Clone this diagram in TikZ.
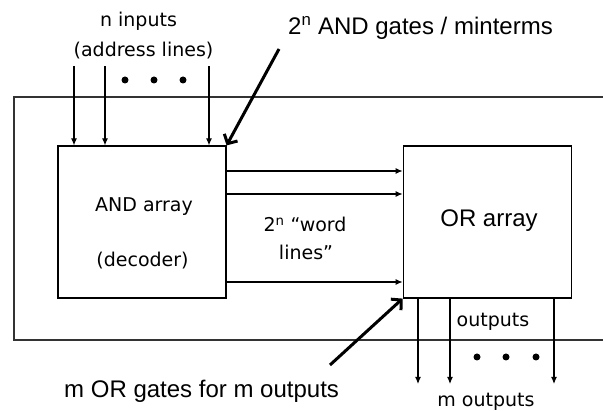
\documentclass[tikz,border=0pt]{standalone}
\usepackage{fontspec}
\setmainfont{DejaVu Sans}
\newfontfamily\arialfont{Liberation Sans}
\usetikzlibrary{positioning}
\usetikzlibrary{calc}
\usetikzlibrary{arrows.meta}

\tikzset{
  block/.style={draw, line width=1.2pt, minimum width=168pt, minimum height=152pt, inner sep=0pt},
  wire/.style={line width=1.1pt, -{Latex[length=7pt,width=6pt]}},
  pointer/.style={line width=3pt, -{Straight Barb[length=7pt,width=15pt]}},
  vtext/.style={font=\fontsize{19}{23}\selectfont, inner sep=0pt},
  atext/.style={font=\arialfont\fontsize{24}{28}\selectfont, inner sep=0pt},
  bullet/.style={circle, fill, inner sep=0pt, minimum size=7pt},
}

\begin{document}
\begin{tikzpicture}[x=1pt, y=-1pt]
    \useasboundingbox (0,0) rectangle (603,411);

    % frame round both arrays (open to the right)
    \draw[line width=1.2pt, black!80] (620,97) -- (14,97) -- (14,340) -- (620,340);

    \node[block] (andarr) at (142,222) {};
    \node[block, right=176pt of andarr] (orarr) {};

    \node[vtext, anchor=base] (andlbl) at (144,212) {AND array};
    \node[vtext, anchor=base] (declbl) at (142.5,267) {(decoder)};
    \node[atext, anchor=base] (orlbl) at (489,227) {OR array};

    % address lines
    \foreach \x [count=\i] in {74,105,209} {
        \coordinate (in\i) at (\x,66);
        \draw[wire] (in\i) -- (in\i |- andarr.north);
    }
    \foreach \x [count=\i] in {125,154,183}
        \node[bullet] (idot\i) at (\x,80) {};

    % word lines
    \foreach \y [count=\i] in {171,194,282} {
        \coordinate (w\i) at (314,\y);
        \draw[wire] (w\i -| andarr.east) -- (w\i -| orarr.west);
    }

    % outputs
    \foreach \x [count=\i] in {418,450,554} {
        \coordinate (out\i) at (\x,384);
        \draw[wire] (out\i |- orarr.south) -- (out\i);
    }
    \foreach \x [count=\i] in {477,506,536}
        \node[bullet] (odot\i) at (\x,357) {};

    \node[vtext, anchor=base] (ninp) at (138.5,27) {n inputs};
    \node[vtext, anchor=base] (addr) at (143.5,57) {(address lines)};
    \node[atext, anchor=base west] (andnote) at (288,35) {2\textsuperscript{n} AND gates / minterms};
    \node[vtext, anchor=base] (word1) at (305,232) {2\textsuperscript{n} “word};
    \node[vtext, anchor=base] (word2) at (306,260) {lines”};
    \node[vtext, anchor=base] (outlbl) at (493,327) {outputs};
    \node[vtext, anchor=base] (mout) at (486,407) {m outputs};
    \node[atext, anchor=base west] (ornote) at (64,398) {m OR gates for m outputs};

    % pointers from the notes
    \coordinate (p1) at (279,49);
    \draw[pointer] (p1) -- (andarr.north east);
    \coordinate (p2) at (330,365);
    \draw[pointer] (p2) -- (orarr.south west);
\end{tikzpicture}
\end{document}
